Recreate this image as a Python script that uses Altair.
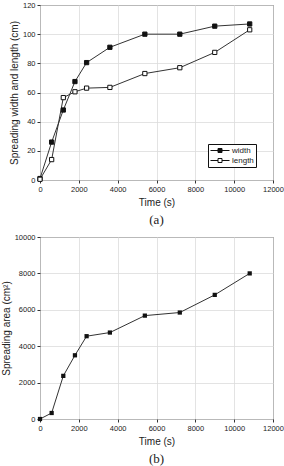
import altair as alt
import pandas as pd

time_s = [0, 600, 1200, 1800, 2400, 3600, 5400, 7200, 9000, 10800]
width_cm = [1, 26, 48, 67.5, 80.5, 91, 100, 100, 105.5, 107]
length_cm = [0.5, 14, 56.5, 60.5, 63, 63.5, 73, 77, 87.5, 103]
area_cm2 = [0, 330, 2370, 3500, 4550, 4750, 5680, 5850, 6820, 8000]
series_names = ["width", "length"]
x_ticks = [0, 2000, 4000, 6000, 8000, 10000, 12000]
ya_ticks = [0, 20, 40, 60, 80, 100, 120]
yb_ticks = [0, 2000, 4000, 6000, 8000, 10000]

labels_col = [series_names[0]] * len(time_s) + [series_names[1]] * len(time_s)
df_a = pd.DataFrame({
    "t": time_s * 2,
    "v": width_cm + length_cm,
    "s": labels_col,
})
df_b = pd.DataFrame({"t": time_s, "v": area_cm2})

FONT = "Liberation Sans"
GRID = "#dcdcdc"

def common():
    return dict(grid=True, gridColor=GRID, gridWidth=0.8, labelFontSize=7.5, titleFontSize=10,
                titleFontWeight="normal", tickSize=3, domain=False, labelPadding=2,
                labelFlush=False, labelOverlap=False, format="d", tickCount=30,
                labelColor="#222", titleColor="#222", tickColor="#333",
                labelFont=FONT, titleFont=FONT)

def xaxis():
    return alt.Axis(title="Time (s)", values=x_ticks, titlePadding=5, **common())

def yaxis(title, values):
    return alt.Axis(title=title, values=values, titlePadding=3, **common())

xs = alt.Scale(domain=[0, 12000], nice=False)

sym = "M -1 0 H 0.875 M 1.875 0 H 3.75 M 0.875 -0.5 H 1.875 V 0.5 H 0.875 Z"

base_a = alt.Chart(df_a).encode(
    x=alt.X("t:Q", scale=xs, axis=xaxis()),
    y=alt.Y("v:Q", scale=alt.Scale(domain=[0, 120], nice=False),
            axis=yaxis("Spreading width and length (cm)", ya_ticks)),
)
line_a = base_a.mark_line(color="#333", strokeWidth=1).encode(detail="s:N")
pts_a = base_a.mark_point(shape="square", size=18, stroke="#111", strokeWidth=1, opacity=1).encode(
    fill=alt.Fill("s:N", scale=alt.Scale(domain=series_names, range=["#111", "white"]),
                  legend=alt.Legend(title=None, orient="none", legendX=168, legendY=139,
                                    symbolType=sym, symbolSize=64, symbolStrokeColor="#111",
                                    symbolStrokeWidth=1, labelFontSize=8, labelFont=FONT,
                                    padding=2, rowPadding=1, labelOffset=13,
                                    labelColor="#222", strokeColor="#111",
                                    fillColor="white")),
)
chart_a = alt.layer(line_a, pts_a).properties(
    width=233, height=175,
    title=alt.TitleParams("(a)", orient="bottom", font="Liberation Serif", fontSize=13,
                          fontWeight="normal", offset=6, color="#222"),
)

base_b = alt.Chart(df_b).encode(
    x=alt.X("t:Q", scale=xs, axis=xaxis()),
    y=alt.Y("v:Q", scale=alt.Scale(domain=[0, 10000], nice=False),
            axis=yaxis("Spreading area (cm²)", yb_ticks)),
)
line_b = base_b.mark_line(color="#333", strokeWidth=1)
pts_b = base_b.mark_point(shape="square", size=18, filled=True, color="#111", opacity=1)
chart_b = alt.layer(line_b, pts_b).properties(
    width=233, height=182,
    title=alt.TitleParams("(b)", orient="bottom", font="Liberation Serif", fontSize=13,
                          fontWeight="normal", offset=6, color="#222"),
)

chart = alt.vconcat(chart_a, chart_b, spacing=5).properties(
    padding={"left": 0, "top": 0, "right": 0, "bottom": 0},
    background="white",
).configure_view(stroke="#333", strokeWidth=1)

chart.save("out.html", embed_options={"renderer": "svg", "actions": False})
